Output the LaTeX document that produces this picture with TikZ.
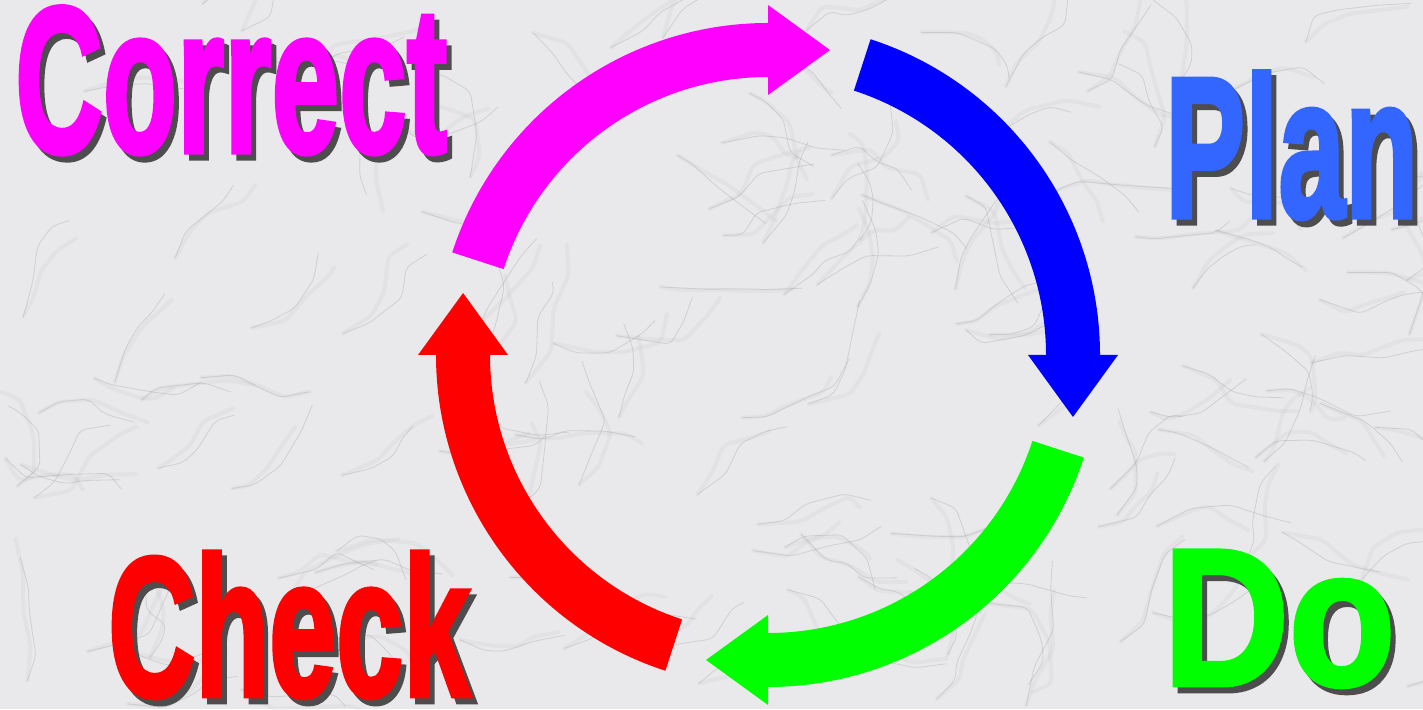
\documentclass[tikz,border=0pt]{standalone}
\usepackage{fontspec}
\usepackage{graphicx}
\newfontfamily\artfont{Liberation Sans}[UprightFont=* Bold, FakeBold=2.5]
\definecolor{marble}{RGB}{233,233,235}
\definecolor{vein}{RGB}{150,150,158}
\definecolor{shade}{RGB}{77,77,77}
\definecolor{pink}{RGB}{255,0,255}
\definecolor{planblue}{RGB}{51,102,255}
\tikzset{
  word/.style={inner sep=0pt, anchor=base west, font=\artfont},
  veinline/.style={draw=vein, line width=0.8pt, draw opacity=0.3, rounded corners=6pt, line cap=round, line join=round},
  veinhaze/.style={draw=vein, line width=4pt, draw opacity=0.08, rounded corners=6pt, line cap=round, line join=round},
}
\begin{document}
\begin{tikzpicture}[x=1pt,y=1pt]
\fill[marble] (0,0) rectangle (1423,709);
\useasboundingbox (0,0) rectangle (1423,709);
% marble veins
\begin{scope}
  \clip (0,0) rectangle (1423,709);
  \pgfmathsetseed{42}
  \foreach \k in {1,...,140}{
    \pgfmathsetmacro\vx{rnd*1423}
    \pgfmathsetmacro\vy{rnd*709}
    \pgfmathsetmacro\va{20+rand*60}
    \pgfmathsetmacro\vb{\va+rand*45}
    \pgfmathsetmacro\vc{\vb+rand*45}
    \pgfmathsetmacro\vd{\vc+rand*45}
    \draw[veinhaze] (\vx,\vy) -- ++(\va:15+rnd*30) -- ++(\vb:15+rnd*30) -- ++(\vc:15+rnd*30) -- ++(\vd:10+rnd*25);
    \draw[veinline] (\vx,\vy) -- ++(\va:15+rnd*30) -- ++(\vb:15+rnd*30) -- ++(\vc:15+rnd*30) -- ++(\vd:10+rnd*25);
  }
\end{scope}
% the four arrows of the cycle
\begin{scope}[shift={(768,354)}]
  \foreach \a/\col in {162/pink, 72/blue, -18/green, -108/red}{
    \pgfmathsetmacro\e{\a-72}
    \fill[\col] (\a:332) arc[start angle=\a, end angle=\e, radius=332]
      -- (\e:350) -- (\e-11.49:311.2) -- (\e:260)
      -- (\e:278) arc[start angle=\e, end angle=\a, radius=278] -- cycle;
  }
\end{scope}
% labels with drop shadow
\foreach \txt/\lx/\ly/\bw/\bh/\col in {Correct/15/557/432/145/pink, Plan/1165/492/253/145/planblue, Do/1163/24/232/134/green, Check/108/13/362/144/red}{
  \node[word, text=shade] (\txt-shadow) at (\lx+5,\ly-6) {\resizebox{\bw pt}{\bh pt}{\txt}};
  \node[word, text=\col] (\txt) at (\lx,\ly) {\resizebox{\bw pt}{\bh pt}{\txt}};
}
\end{tikzpicture}
\end{document}
